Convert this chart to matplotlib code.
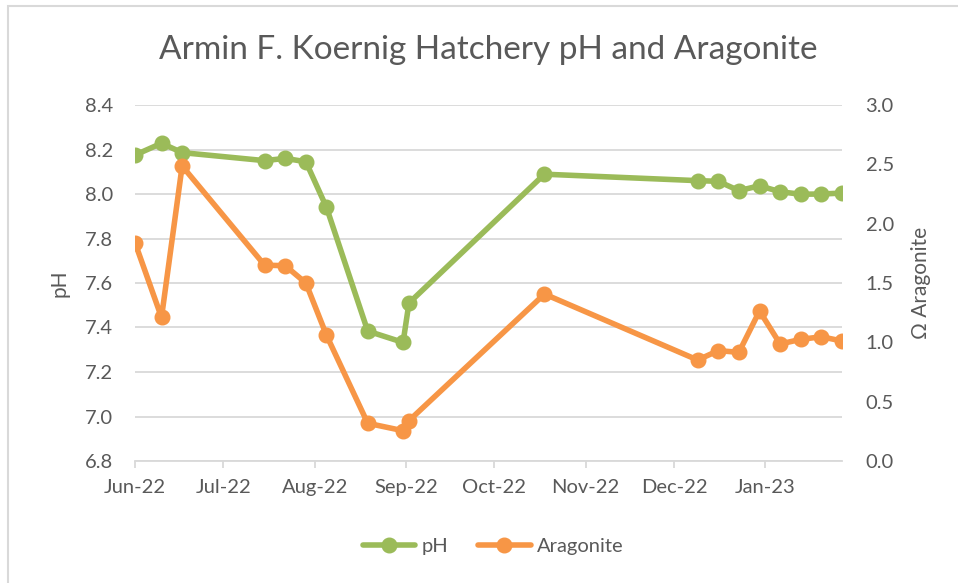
import pandas as pd
import matplotlib
matplotlib.use('Agg')
import matplotlib.pyplot as plt
import matplotlib.dates as mdates
from matplotlib.patches import Rectangle

# Sample dates and readings
dates = ['2022-06-01', '2022-06-10', '2022-06-17', '2022-07-15', '2022-07-22',
         '2022-07-29', '2022-08-05', '2022-08-19', '2022-08-31', '2022-09-02',
         '2022-10-18', '2022-12-09', '2022-12-16', '2022-12-23', '2022-12-30',
         '2023-01-06', '2023-01-13', '2023-01-20', '2023-01-27']
ph = [8.175, 8.228, 8.186, 8.15, 8.16, 8.145, 7.94, 7.384, 7.333, 7.51,
      8.089, 8.06, 8.057, 8.015, 8.037, 8.01, 7.999, 8.0, 8.004]
aragonite = [1.84, 1.21, 2.486, 1.65, 1.646, 1.50, 1.06, 0.318, 0.255, 0.34,
             1.407, 0.851, 0.93, 0.916, 1.264, 0.986, 1.025, 1.047, 1.011]

month_ticks = ['2022-06-01', '2022-07-01', '2022-08-01', '2022-09-01', '2022-10-01',
               '2022-11-01', '2022-12-01', '2023-01-01']

dates = pd.to_datetime(dates)
month_ticks = pd.to_datetime(month_ticks)

plt.rcParams['font.family'] = ['Lato', 'DejaVu Sans']
text_color = '#595959'
green = '#9BBB59'
orange = '#F79646'

fig = plt.figure(figsize=(9.58, 5.83), dpi=100)
# chart border (partly cropped in the original)
fig.patches.append(Rectangle((8 / 958, -0.1), 1.2, 1.1 - 6 / 583, transform=fig.transFigure,
                             fill=False, edgecolor='#D9D9D9', linewidth=1.5))

ax = fig.add_axes([135 / 958, 1 - 461 / 583, 707 / 958, 356 / 583])
ax2 = ax.twinx()

ax.plot(dates, ph, color=green, linewidth=4, marker='o', markersize=10.5, label='pH',
        solid_capstyle='round', zorder=3)
ax2.plot(dates, aragonite, color=orange, linewidth=4, marker='o', markersize=10.5,
         label='Aragonite', solid_capstyle='round', zorder=3)

ax.set_ylim(6.8, 8.4)
ax.set_yticks([6.8, 7.0, 7.2, 7.4, 7.6, 7.8, 8.0, 8.2, 8.4])
ax.yaxis.set_major_formatter(matplotlib.ticker.FormatStrFormatter('%.1f'))
ax2.set_ylim(0, 3.0)
ax2.set_yticks([0, 0.5, 1.0, 1.5, 2.0, 2.5, 3.0])
ax2.yaxis.set_major_formatter(matplotlib.ticker.FormatStrFormatter('%.1f'))

ax.set_xlim(dates[0], dates[-1])
ax.set_xticks(month_ticks)
ax.xaxis.set_major_formatter(mdates.DateFormatter('%b-%y'))

ax.grid(axis='y', color='#D9D9D9', linewidth=1.3)
ax.set_axisbelow(True)
for a in (ax, ax2):
    for s in ('top', 'right', 'left', 'bottom'):
        a.spines[s].set_visible(False)
ax.spines['bottom'].set_visible(True)
ax.spines['bottom'].set_color('#D9D9D9')
ax.spines['bottom'].set_linewidth(1.3)

ax.tick_params(axis='y', length=0, pad=16, labelsize=14.5, labelcolor=text_color)
ax2.tick_params(axis='y', length=0, pad=17, labelsize=14.5, labelcolor=text_color)
ax.tick_params(axis='x', length=5, width=1.3, color='#D9D9D9', pad=8,
               labelsize=14.5, labelcolor=text_color)

ax.set_ylabel('pH', fontsize=15, color=text_color, labelpad=11)
ax2.set_ylabel('Ω Aragonite', fontsize=15, color=text_color, labelpad=12)

fig.text(0.510, 1 - 50 / 583, 'Armin F. Koernig Hatchery pH and Aragonite',
         ha='center', va='center', fontsize=24, color=text_color)

lines = ax.get_lines() + ax2.get_lines()
fig.legend(lines, [l.get_label() for l in lines], loc='center', ncol=2,
           bbox_to_anchor=(493 / 958, 1 - 546 / 583), frameon=False,
           fontsize=14.5, labelcolor=text_color, handlelength=2.6, columnspacing=1.5,
           handletextpad=0.3)

fig.savefig('out.png', dpi=100)
